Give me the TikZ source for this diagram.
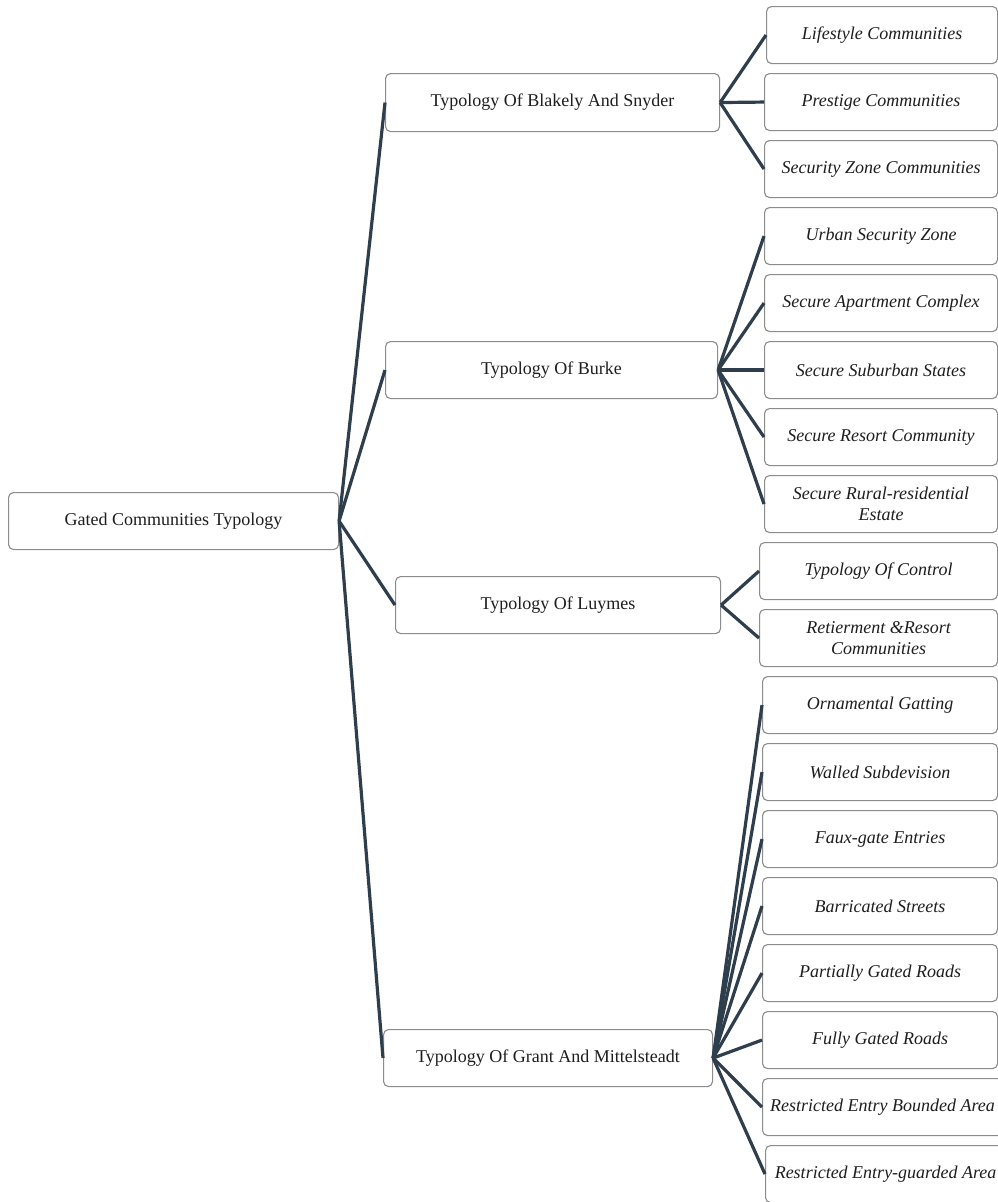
\documentclass[tikz,border=0pt]{standalone}
\usepackage{fontspec}
\setmainfont{Liberation Serif}
\definecolor{linec}{HTML}{2F3E4D}
\definecolor{boxc}{HTML}{8C8C8C}
\definecolor{txtc}{HTML}{1E1E1E}
\begin{document}
\begin{tikzpicture}[x=1pt,y=-1pt,
  box/.style={draw=boxc, line width=1.1pt, rounded corners=5pt, fill=white,
    anchor=north west, inner sep=1pt, text=txtc, align=center,
    font=\fontsize{18}{21}\selectfont},
  midbox/.style={box},
  leaf/.style={box, minimum width=233pt, minimum height=57pt,
    font=\fontsize{18}{21}\selectfont\itshape},
  conn/.style={draw=linec, line width=3.2pt}
]
\useasboundingbox (0,0) rectangle (998,1202);

% root
\node[box, minimum width=330pt, minimum height=57pt] (root) at (8,492) {Gated Communities Typology};

% second level
\node[midbox, minimum width=334pt, minimum height=58pt] (blak) at (385,73) {Typology Of Blakely And Snyder};
\node[midbox, minimum width=332pt, minimum height=57pt] (burk) at (385,341) {Typology Of Burke};
\node[midbox, minimum width=325pt, minimum height=57pt] (luym) at (395,576) {Typology Of Luymes};
\node[midbox, minimum width=329pt, minimum height=57pt] (gran) at (383,1029) {Typology Of Grant And Mittelsteadt};

% leaves
\node[leaf, minimum width=231pt] (l1) at (766,6) {Lifestyle Communities};
\node[leaf] (l2) at (764,73) {Prestige Communities};
\node[leaf] (l3) at (764,140) {Security Zone Communities};
\node[leaf] (l4) at (764,207) {Urban Security Zone};
\node[leaf] (l5) at (764,274) {Secure Apartment Complex};
\node[leaf] (l6) at (764,341) {Secure Suburban States};
\node[leaf] (l7) at (764,408) {Secure Resort Community};
\node[leaf] (l8) at (764,475) {Secure Rural-residential\\Estate};
\node[leaf, minimum width=238pt] (l9) at (759,542) {Typology Of Control};
\node[leaf, minimum width=238pt] (l10) at (759,609) {Retierment \&Resort\\Communities};
\node[leaf, minimum width=235pt] (l11) at (762,676) {Ornamental Gatting};
\node[leaf, minimum width=235pt] (l12) at (762,743) {Walled Subdevision};
\node[leaf, minimum width=235pt] (l13) at (762,810) {Faux-gate Entries};
\node[leaf, minimum width=235pt] (l14) at (762,877) {Barricated Streets};
\node[leaf, minimum width=235pt] (l15) at (762,944) {Partially Gated Roads};
\node[leaf, minimum width=235pt] (l16) at (762,1011) {Fully Gated Roads};
\node[leaf, minimum width=240pt] (l17) at (762,1078) {Restricted Entry Bounded Area};
\node[leaf, minimum width=240pt] (l18) at (765,1145) {Restricted Entry-guarded Area};

% connectors
\foreach \c in {blak,burk,luym,gran}
  \draw[conn] (root.east) -- (\c.west);
\foreach \c in {l1,l2,l3}
  \draw[conn] (blak.east) -- (\c.west);
\foreach \c in {l4,l5,l6,l7,l8}
  \draw[conn] (burk.east) -- (\c.west);
\foreach \c in {l9,l10}
  \draw[conn] (luym.east) -- (\c.west);
\foreach \c in {l11,l12,l13,l14,l15,l16,l17,l18}
  \draw[conn] (gran.east) -- (\c.west);
\end{tikzpicture}
\end{document}
